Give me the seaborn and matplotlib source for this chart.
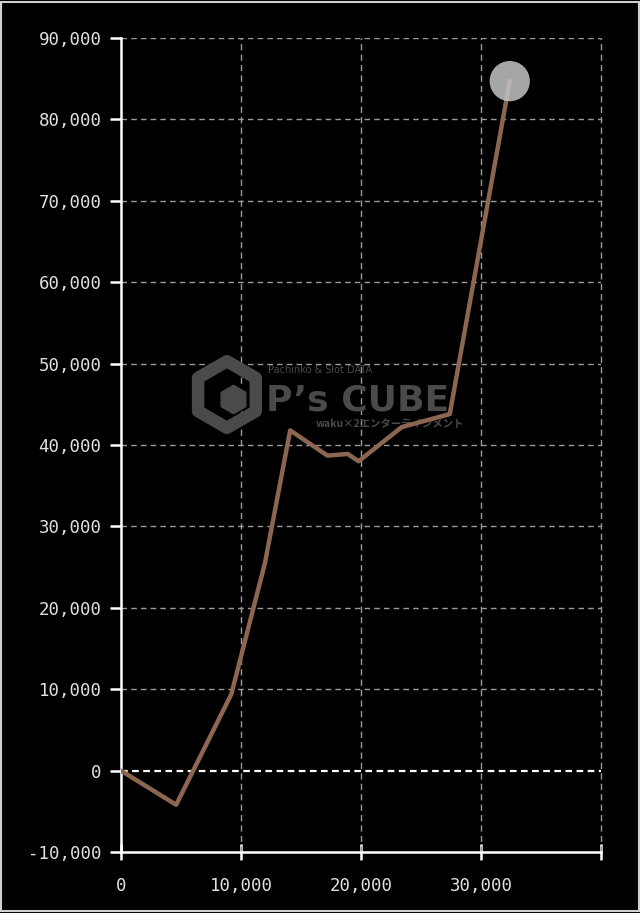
import matplotlib
matplotlib.use("Agg")
import matplotlib.pyplot as plt
import pandas as pd
import seaborn as sns
from matplotlib.patches import Rectangle
from matplotlib.ticker import FuncFormatter

# data (games played vs. difference in medals)
games = [0, 4600, 9200, 12000, 14100, 17200, 18900, 19800, 23400, 27400, 32400]
diff = [0, -4200, 9400, 25500, 41800, 38700, 38900, 38000, 42200, 43800, 84700]
x_ticks = [0, 10000, 20000, 30000, 40000]
y_ticks = list(range(-10000, 90001, 10000))

df = pd.DataFrame({"games": games, "diff": diff})

sns.set_style("dark", {"axes.facecolor": "black", "figure.facecolor": "black"})
plt.rcParams["font.family"] = ["DejaVu Sans Mono", "Noto Sans CJK JP"]

fig = plt.figure(figsize=(6.4, 9.13), dpi=100)
ax = fig.add_axes([0.189, 0.0668, 0.75, 0.8916])
ax.set_facecolor("black")

# grid
for x in x_ticks[1:]:
    ax.axvline(x, color="#9a9a9a", lw=1, ls=(0, (4.5, 3)), zorder=1, clip_on=False)
for y in y_ticks[1:]:
    if y == 0:
        ax.axhline(y, color="white", lw=1.6, ls=(0, (3, 2)), zorder=1)
    else:
        ax.axhline(y, color="#9a9a9a", lw=1, ls=(0, (4, 3)), zorder=1)

# watermark (site logo)
wm = "#4a4a4a"
ax.scatter([8830], [46200], marker="h", s=2300, facecolors="none",
           edgecolors=wm, linewidths=9, zorder=2)
ax.scatter([9300], [45600], marker="h", s=520, color=wm, edgecolors="black",
           linewidths=1, zorder=2)
ax.text(0.306, 0.588, "Pachinko & Slot DATA", transform=ax.transAxes,
        color=wm, fontsize=7, family="DejaVu Sans", zorder=2)
ax.text(0.303, 0.542, "P’s CUBE", transform=ax.transAxes, color=wm,
        fontsize=26, fontweight="bold", family="DejaVu Sans", zorder=2)
ax.text(0.405, 0.526, "waku×2エンターテインメント", transform=ax.transAxes,
        color=wm, fontsize=7.5, family=["Noto Sans CJK JP", "DejaVu Sans"],
        fontweight="bold", va="center", zorder=2)

sns.lineplot(data=df, x="games", y="diff", ax=ax, sort=False,
             color="#8c6650", lw=3.2, zorder=3)
ax.scatter([games[-1]], [diff[-1]], s=840, color="#c4c4c4", alpha=0.85,
           edgecolors="none", zorder=4)

ax.set_xlim(0, 40000)
ax.set_ylim(-10000, 90000)
ax.set_xticks(x_ticks)
ax.set_yticks(y_ticks)
fmt = FuncFormatter(lambda v, p: "" if v == 40000 else f"{int(v):,}")
ax.xaxis.set_major_formatter(fmt)
ax.yaxis.set_major_formatter(FuncFormatter(lambda v, p: f"{int(v):,}"))
ax.set_xlabel("")
ax.set_ylabel("")
ax.grid(False)

for s in ["top", "right"]:
    ax.spines[s].set_visible(False)
for s in ["left", "bottom"]:
    ax.spines[s].set_visible(True)
    ax.spines[s].set_color("white")
    ax.spines[s].set_linewidth(1.8)
ax.tick_params(axis="y", colors="white", labelcolor="#e0e0e0", labelsize=12.5,
               length=8, width=1.8, direction="out", pad=6, left=True)
ax.tick_params(axis="x", colors="white", labelcolor="#e0e0e0", labelsize=12.5,
               length=12, width=1.8, direction="inout", pad=12, bottom=True)

# frame around figure
fig.patches.append(Rectangle((0.002, 0.002), 0.996, 0.996, transform=fig.transFigure,
                             fill=False, edgecolor="#d0d0d0", lw=1.5))

fig.savefig("out.png", dpi=100, facecolor="black")
